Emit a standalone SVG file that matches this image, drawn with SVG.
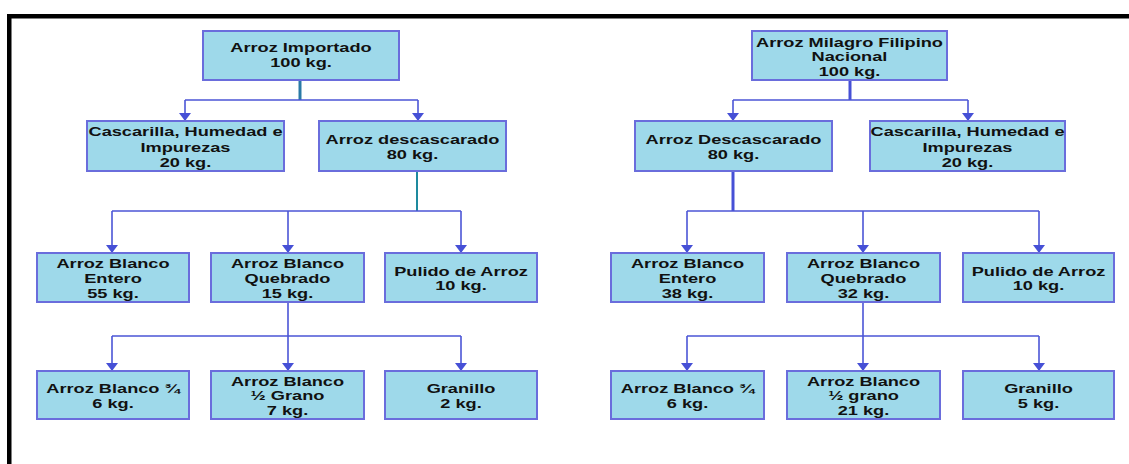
<svg xmlns="http://www.w3.org/2000/svg" width="1129" height="464" viewBox="0 0 1129 464">
<style>
.box{fill:#9ed9ea;stroke:#6a6ddc;stroke-width:2}
.t{font-family:"Liberation Sans",Arial,sans-serif;font-weight:bold;font-size:13px;fill:#111;text-anchor:middle}
.c{fill:none;stroke:#4b55d6;stroke-width:1.6}
.a{fill:none;stroke:#4b55d6;stroke-width:1.6;marker-end:url(#arr)}
.trunkT{fill:none;stroke:#2a7aa6;stroke-width:3}
.trunkB{fill:none;stroke:#4650d6;stroke-width:3}
</style>
<defs>
<marker id="arr" markerUnits="userSpaceOnUse" viewBox="0 0 8 12" markerWidth="8" markerHeight="12" refX="8" refY="6" orient="auto">
<path d="M0,0 L8,6 L0,12 z" fill="#4650d6"/>
</marker>
</defs>
<rect x="0" y="0" width="1129" height="464" fill="#fff"/>
<g id="frame">
<rect x="7" y="14" width="1122" height="4.5" fill="#000"/>
<rect x="7" y="14" width="4.5" height="450" fill="#000"/>
</g>
<g id="connectors">
<path class="trunkT" d="M300,80 V100"/>
<path class="c" d="M185,100 H418"/>
<path class="a" d="M185,100 V121"/>
<path class="a" d="M418,100 V121"/>
<path d="M417,171 V211" fill="none" stroke="#1e8a9e" stroke-width="2"/>
<path class="c" d="M112,211 H461"/>
<path class="a" d="M112,211 V253"/>
<path class="a" d="M288,211 V253"/>
<path class="a" d="M461,211 V253"/>
<path class="c" d="M288,302 V336 M112,336 H461"/>
<path class="a" d="M112,336 V371"/>
<path class="a" d="M288,336 V371"/>
<path class="a" d="M461,336 V371"/>
<path class="trunkB" d="M850,80 V100"/>
<path class="c" d="M733,100 H968"/>
<path class="a" d="M733,100 V121"/>
<path class="a" d="M968,100 V121"/>
<path class="trunkB" d="M733,171 V211"/>
<path class="c" d="M687,211 H1039"/>
<path class="a" d="M687,211 V253"/>
<path class="a" d="M863,211 V253"/>
<path class="a" d="M1039,211 V253"/>
<path class="c" d="M863,302 V336 M687,336 H1039"/>
<path class="a" d="M687,336 V371"/>
<path class="a" d="M863,336 V371"/>
<path class="a" d="M1039,336 V371"/>
</g>
<g id="n-importado"><rect class="box" x="203" y="31" width="196" height="49"/>
<text class="t" transform="translate(301,0) scale(1.4,1)"><tspan x="0" y="52.5">Arroz Importado</tspan><tspan x="0" y="67.5">100 kg.</tspan></text></g>
<g id="n-cascarilla-l"><rect class="box" x="87" y="121" width="197" height="50"/>
<text class="t" transform="translate(185.5,0) scale(1.4,1)"><tspan x="0" y="136">Cascarilla, Humedad e</tspan><tspan x="0" y="152">Impurezas</tspan><tspan x="0" y="167.5">20 kg.</tspan></text></g>
<g id="n-descascarado-l"><rect class="box" x="319" y="121" width="187" height="50"/>
<text class="t" transform="translate(412.5,0) scale(1.4,1)"><tspan x="0" y="144.5">Arroz descascarado</tspan><tspan x="0" y="159.5">80 kg.</tspan></text></g>
<g id="n-entero-l"><rect class="box" x="37" y="253" width="152" height="49"/>
<text class="t" transform="translate(113,0) scale(1.4,1)"><tspan x="0" y="268">Arroz Blanco</tspan><tspan x="0" y="283.5">Entero</tspan><tspan x="0" y="298">55 kg.</tspan></text></g>
<g id="n-quebrado-l"><rect class="box" x="211" y="253" width="153" height="49"/>
<text class="t" transform="translate(287.5,0) scale(1.4,1)"><tspan x="0" y="268">Arroz Blanco</tspan><tspan x="0" y="283.5">Quebrado</tspan><tspan x="0" y="298">15 kg.</tspan></text></g>
<g id="n-pulido-l"><rect class="box" x="385" y="253" width="152" height="49"/>
<text class="t" transform="translate(461,0) scale(1.4,1)"><tspan x="0" y="276">Pulido de Arroz</tspan><tspan x="0" y="290.5">10 kg.</tspan></text></g>
<g id="n-34-l"><rect class="box" x="37" y="371" width="152" height="48"/>
<text class="t" transform="translate(113,0) scale(1.4,1)"><tspan x="0" y="393.5">Arroz Blanco ¾</tspan><tspan x="0" y="408.5">6 kg.</tspan></text></g>
<g id="n-12-l"><rect class="box" x="211" y="371" width="153" height="48"/>
<text class="t" transform="translate(287.5,0) scale(1.4,1)"><tspan x="0" y="386">Arroz Blanco</tspan><tspan x="0" y="400.5">½ Grano</tspan><tspan x="0" y="415.5">7 kg.</tspan></text></g>
<g id="n-granillo-l"><rect class="box" x="385" y="371" width="152" height="48"/>
<text class="t" transform="translate(461,0) scale(1.4,1)"><tspan x="0" y="393.5">Granillo</tspan><tspan x="0" y="408.5">2 kg.</tspan></text></g>
<g id="n-milagro"><rect class="box" x="752" y="31" width="195" height="49"/>
<text class="t" transform="translate(849.5,0) scale(1.4,1)"><tspan x="0" y="47">Arroz Milagro Filipino</tspan><tspan x="0" y="61.5">Nacional</tspan><tspan x="0" y="76">100 kg.</tspan></text></g>
<g id="n-descascarado-r"><rect class="box" x="635" y="121" width="197" height="50"/>
<text class="t" transform="translate(733.5,0) scale(1.4,1)"><tspan x="0" y="144.5">Arroz Descascarado</tspan><tspan x="0" y="159.5">80 kg.</tspan></text></g>
<g id="n-cascarilla-r"><rect class="box" x="870" y="121" width="195" height="50"/>
<text class="t" transform="translate(967.5,0) scale(1.4,1)"><tspan x="0" y="136">Cascarilla, Humedad e</tspan><tspan x="0" y="152">Impurezas</tspan><tspan x="0" y="167.5">20 kg.</tspan></text></g>
<g id="n-entero-r"><rect class="box" x="611" y="253" width="153" height="49"/>
<text class="t" transform="translate(687.5,0) scale(1.4,1)"><tspan x="0" y="268">Arroz Blanco</tspan><tspan x="0" y="283.5">Entero</tspan><tspan x="0" y="298">38 kg.</tspan></text></g>
<g id="n-quebrado-r"><rect class="box" x="787" y="253" width="153" height="49"/>
<text class="t" transform="translate(863.5,0) scale(1.4,1)"><tspan x="0" y="268">Arroz Blanco</tspan><tspan x="0" y="283.5">Quebrado</tspan><tspan x="0" y="298">32 kg.</tspan></text></g>
<g id="n-pulido-r"><rect class="box" x="963" y="253" width="151" height="49"/>
<text class="t" transform="translate(1038.5,0) scale(1.4,1)"><tspan x="0" y="276">Pulido de Arroz</tspan><tspan x="0" y="290.5">10 kg.</tspan></text></g>
<g id="n-34-r"><rect class="box" x="611" y="371" width="153" height="48"/>
<text class="t" transform="translate(687.5,0) scale(1.4,1)"><tspan x="0" y="393.5">Arroz Blanco ¾</tspan><tspan x="0" y="408.5">6 kg.</tspan></text></g>
<g id="n-12-r"><rect class="box" x="787" y="371" width="153" height="48"/>
<text class="t" transform="translate(863.5,0) scale(1.4,1)"><tspan x="0" y="386">Arroz Blanco</tspan><tspan x="0" y="400.5">½ grano</tspan><tspan x="0" y="415.5">21 kg.</tspan></text></g>
<g id="n-granillo-r"><rect class="box" x="963" y="371" width="151" height="48"/>
<text class="t" transform="translate(1038.5,0) scale(1.4,1)"><tspan x="0" y="393.5">Granillo</tspan><tspan x="0" y="408.5">5 kg.</tspan></text></g>
</svg>
